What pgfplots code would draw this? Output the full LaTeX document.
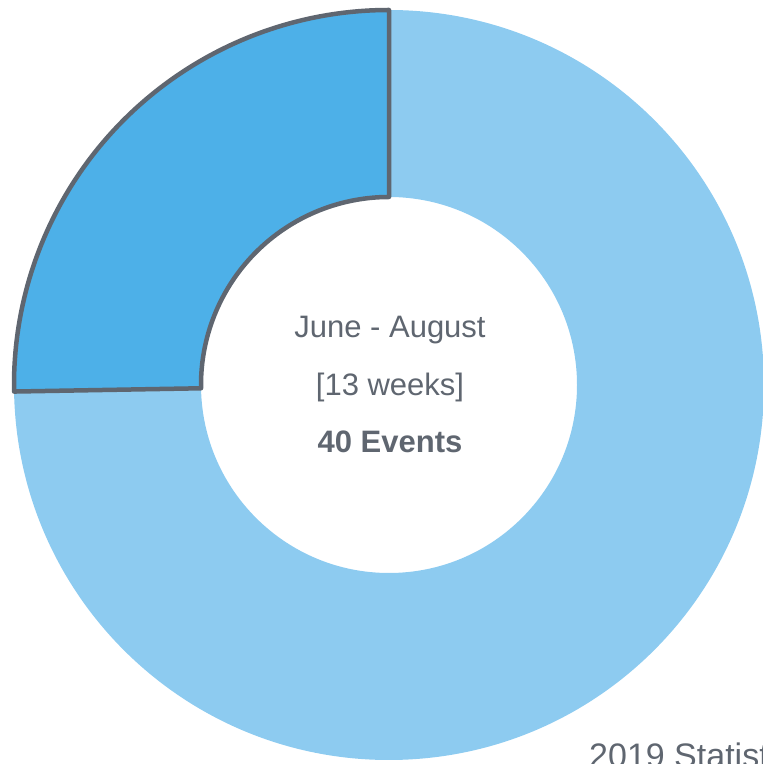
\documentclass[border=0pt]{standalone}
\usepackage{pgfplots}
\pgfplotsset{compat=1.18}
\usepackage{pgfplotstable}
\usepackage{fontspec}
\setmainfont{Liberation Sans}
\definecolor{lightblue}{HTML}{8DCBF0}
\definecolor{darkblue}{HTML}{4DB0E8}
\definecolor{edgegray}{HTML}{5F6670}
\definecolor{txtgray}{HTML}{5F6670}
% slices: weeks
\pgfplotstableread{
name weeks
summer 13
rest 39
}\slices
\begin{document}
\begin{tikzpicture}
\useasboundingbox (0,0) rectangle (763pt,764pt);
\clip (0,0) rectangle (763pt,764pt);
\begin{axis}[
  at={(0,0)}, anchor=south west,
  width=763pt, height=764pt, scale only axis,
  xmin=0, xmax=763, ymin=0, ymax=764,
  hide axis, clip=false,
]
\pgfplotstablegetelem{0}{weeks}\of\slices \let\wa\pgfplotsretval
\pgfplotstablegetelem{1}{weeks}\of\slices \let\wb\pgfplotsretval
\pgfmathsetmacro{\tot}{\wa+\wb}
\pgfmathsetmacro{\astart}{90}
\pgfmathsetmacro{\amid}{90+360*\wa/\tot+1}
\pgfmathsetmacro{\aend}{450}
% light slice
\fill[lightblue] ([shift={(\amid:375pt)}]axis cs:389,379)
  arc[start angle=\amid, end angle=\aend, radius=375pt]
  -- ([shift={(\aend:188pt)}]axis cs:389,379)
  arc[start angle=\aend, end angle=\amid, radius=188pt] -- cycle;
% highlighted slice
\filldraw[fill=darkblue, draw=edgegray, line width=4.5pt, line join=round]
  ([shift={(\astart:375pt)}]axis cs:389,379)
  arc[start angle=\astart, end angle=\amid, radius=375pt]
  -- ([shift={(\amid:188pt)}]axis cs:389,379)
  arc[start angle=\amid, end angle=\astart, radius=188pt] -- cycle;
\node[anchor=base, text=txtgray, font=\fontsize{31pt}{36pt}\selectfont, inner sep=0pt] at (axis cs:390,426) {June - August};
\node[anchor=base, text=txtgray, font=\fontsize{31pt}{36pt}\selectfont, inner sep=0pt] at (axis cs:390,368) {[13 weeks]};
\node[anchor=base, text=txtgray, font=\fontsize{31pt}{36pt}\selectfont\bfseries, inner sep=0pt] at (axis cs:390,311) {40 Events};
\node[anchor=base west, text=txtgray, font=\fontsize{34pt}{40pt}\selectfont, inner sep=0pt] at (axis cs:589,-3) {2019 Statistics};
\end{axis}
\end{tikzpicture}
\end{document}
